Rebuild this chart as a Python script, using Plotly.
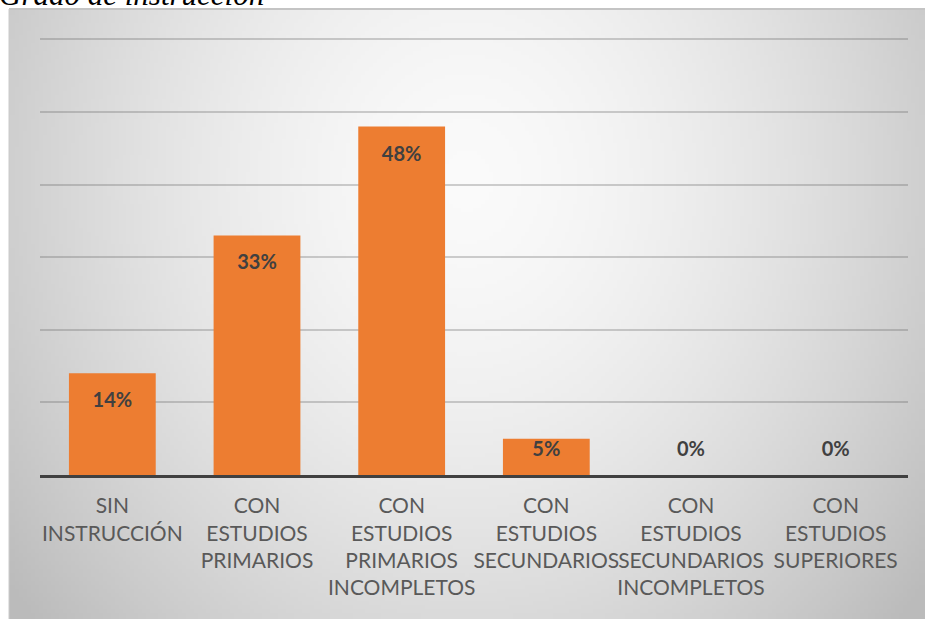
import base64
import struct
import zlib

import plotly.graph_objects as go

# ---------------- data ----------------
categories = [
    "SIN<br>INSTRUCCIÓN",
    "CON<br>ESTUDIOS<br>PRIMARIOS",
    "CON<br>ESTUDIOS<br>PRIMARIOS<br>INCOMPLETOS",
    "CON<br>ESTUDIOS<br>SECUNDARIOS",
    "CON<br>ESTUDIOS<br>SECUNDARIOS<br>INCOMPLETOS",
    "CON<br>ESTUDIOS<br>SUPERIORES",
]
values = [14, 33, 48, 5, 0, 0]
value_labels = [f"{v}%" for v in values]
title_text = "Grado de instrucción"

# ---------------- background gradient (pure python PNG) ----------------
W, H = 230, 152


def make_png(w, h):
    rows = []
    for j in range(h):
        row = bytearray([0])
        ty = j / (h - 1)
        for i in range(w):
            tx = i / (w - 1)
            d = (((tx - 0.5) / 0.55) ** 2 + ((ty - 0.28) / 0.95) ** 2) ** 0.5
            d = min(d, 1.15)
            c = int(round(250 - 50 * (d ** 1.6)))
            c = max(0, min(255, c))
            row += bytes([c, c, c])
        rows.append(bytes(row))
    raw = b"".join(rows)

    def chunk(tag, data):
        return (struct.pack(">I", len(data)) + tag + data
                + struct.pack(">I", zlib.crc32(tag + data) & 0xFFFFFFFF))

    png = b"\x89PNG\r\n\x1a\n"
    png += chunk(b"IHDR", struct.pack(">IIBBBBB", w, h, 8, 2, 0, 0, 0))
    png += chunk(b"IDAT", zlib.compress(raw, 9))
    png += chunk(b"IEND", b"")
    return "data:image/png;base64," + base64.b64encode(png).decode()


bg_uri = make_png(W, H)

# ---------------- figure ----------------
FIG_W, FIG_H = 925, 619
ML, MR, MT, MB = 40, 17, 38, 144
PW = FIG_W - ML - MR
PH = FIG_H - MT - MB


def px_x(p):
    return (p - ML) / PW


def px_y(p):
    return (FIG_H - MB - p) / PH


fig = go.Figure()
fig.add_trace(go.Bar(
    x=categories,
    y=values,
    marker=dict(color="#ED7D31", line=dict(width=0)),
    width=0.6,
    hoverinfo="skip",
))

label_y = [max(v - 4, 3.3) for v in values]
fig.add_trace(go.Scatter(
    x=categories,
    y=label_y,
    mode="text",
    text=value_labels,
    textposition="middle center",
    textfont=dict(family="Lato", size=20, color="#404040", weight="bold"),
    hoverinfo="skip",
))

box_x0, box_y0 = px_x(9), px_y(9)
box_x1, box_y1 = px_x(925), px_y(619)

fig.update_layout(
    width=FIG_W,
    height=FIG_H,
    margin=dict(l=ML, r=MR, t=MT, b=MB),
    paper_bgcolor="white",
    plot_bgcolor="rgba(0,0,0,0)",
    showlegend=False,
    images=[dict(
        source=bg_uri,
        xref="paper", yref="paper",
        x=box_x0, y=box_y0,
        sizex=box_x1 - box_x0, sizey=box_y0 - box_y1,
        xanchor="left", yanchor="top",
        sizing="stretch", layer="below",
    )],
    shapes=[
        dict(type="line", xref="paper", yref="paper",
             x0=box_x0, x1=box_x1, y0=box_y0, y1=box_y0,
             line=dict(color="#c4c4c4", width=2), layer="below"),
        dict(type="line", xref="paper", yref="paper",
             x0=box_x0, x1=box_x0, y0=box_y0, y1=box_y1,
             line=dict(color="#cacaca", width=1), layer="below"),
    ],
    annotations=[dict(
        text=title_text,
        xref="paper", yref="paper",
        x=px_x(-3), y=px_y(14),
        xanchor="left", yanchor="bottom",
        showarrow=False,
        font=dict(family="Liberation Serif", size=31, color="#000000",
                  style="italic"),
    )],
)

fig.update_yaxes(
    range=[0, 60.2],
    dtick=10,
    showticklabels=False,
    showgrid=True,
    gridcolor="rgba(100,100,100,0.3)",
    gridwidth=2,
    zeroline=False,
    fixedrange=True,
)
fig.update_xaxes(
    showline=True,
    linecolor="#404040",
    linewidth=3,
    ticks="outside",
    ticklen=10,
    tickcolor="rgba(0,0,0,0)",
    tickfont=dict(family="Lato", size=21, color="#595959"),
    tickangle=0,
    fixedrange=True,
)

fig.write_html(
    "out.html",
    config={"displayModeBar": False},
    post_script="document.body.style.margin='0';document.body.style.overflow='hidden';",
)
